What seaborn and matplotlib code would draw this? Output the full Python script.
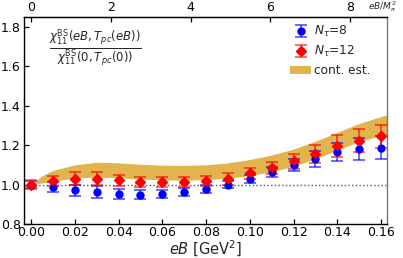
import numpy as np
import matplotlib
matplotlib.use('Agg')
import matplotlib.pyplot as plt
import seaborn as sns
from matplotlib.patches import Patch

# eB in GeV^2
eB = [0.00, 0.01, 0.02, 0.03, 0.04, 0.05, 0.06, 0.07, 0.08,
      0.09, 0.10, 0.11, 0.12, 0.13, 0.14, 0.15, 0.16]

# N_tau = 12 (red)
r12 = [1.000, 1.020, 1.029, 1.030, 1.022, 1.014, 1.012, 1.012, 1.020,
       1.030, 1.056, 1.084, 1.118, 1.155, 1.194, 1.223, 1.245]
e12 = [0.022, 0.025, 0.033, 0.033, 0.028, 0.025, 0.025, 0.025, 0.025,
       0.030, 0.030, 0.030, 0.039, 0.047, 0.055, 0.058, 0.059]

# N_tau = 8 (blue)
r8 = [1.000, 0.988, 0.971, 0.962, 0.953, 0.949, 0.953, 0.962, 0.978,
      1.000, 1.029, 1.062, 1.098, 1.130, 1.164, 1.182, 1.187]
e8 = [0.020, 0.026, 0.028, 0.030, 0.025, 0.022, 0.020, 0.020, 0.020,
      0.020, 0.020, 0.025, 0.030, 0.040, 0.045, 0.055, 0.057]

# continuum estimate band
band_x = [0.0, 0.005, 0.01, 0.02, 0.03, 0.04, 0.05, 0.06, 0.07, 0.08,
          0.09, 0.10, 0.11, 0.12, 0.13, 0.14, 0.15, 0.16, 0.163]
band_hi = [1.00, 1.045, 1.072, 1.100, 1.113, 1.110, 1.103, 1.098, 1.097, 1.100,
           1.110, 1.127, 1.150, 1.180, 1.220, 1.265, 1.310, 1.345, 1.355]
band_lo = [1.00, 1.008, 1.017, 1.033, 1.038, 1.034, 1.028, 1.024, 1.022, 1.025,
           1.032, 1.045, 1.065, 1.093, 1.130, 1.175, 1.218, 1.248, 1.255]

Mpi2 = 0.135 ** 2

sns.set_style('ticks')
plt.rcParams['font.family'] = ['DejaVu Sans']
plt.rcParams['xtick.direction'] = 'in'
plt.rcParams['ytick.direction'] = 'in'
plt.rcParams['axes.edgecolor'] = 'black'
plt.rcParams['xtick.color'] = 'black'
plt.rcParams['ytick.color'] = 'black'

fig = plt.figure(figsize=(4.03, 2.58), dpi=100)
ax = fig.add_axes([0.06, 0.132, 0.90, 0.802])

band_col = '#E1B44D'
ax.fill_between(band_x, band_lo, band_hi, color=band_col, lw=0, zorder=1)
ax.axhline(1.0, color='#555555', ls=':', lw=1.0, zorder=2)

h8 = ax.errorbar(eB, r8, yerr=e8, fmt='o', color='blue', ms=5,
                 ecolor=(0, 0, 1, 0.75), elinewidth=1.1,
                 capsize=4, capthick=1.1, zorder=3)
h12 = ax.errorbar(eB, r12, yerr=e12, fmt='D', color='red', ms=4.6,
                  ecolor=(1, 0, 0, 0.75), elinewidth=1.1,
                  capsize=4, capthick=1.1, zorder=4)
# markers on top of all bars
sns.scatterplot(x=eB, y=r8, ax=ax, color='blue', marker='o', s=26,
                linewidth=0, zorder=5)
sns.scatterplot(x=eB, y=r12, ax=ax, color='red', marker='D', s=22,
                linewidth=0, zorder=6)

ax.set_xlim(-0.0032, 0.1627)
ax.set_ylim(0.8, 1.85)
ax.set_xticks(np.arange(0, 0.161, 0.02))
ax.set_yticks([0.8, 1.0, 1.2, 1.4, 1.6, 1.8])
ax.tick_params(labelsize=9, length=3.5, width=0.9, pad=2.5)
ax.tick_params(axis='x', pad=1.5)
ax.set_xlabel('$eB$ [GeV$^2$]', fontsize=10.5, labelpad=0)
for s in ax.spines.values():
    s.set_linewidth(1.0)
    s.set_color('black')
ax.spines['right'].set_color('#777777')

sec = ax.secondary_xaxis('top', functions=(lambda x: x / Mpi2, lambda x: x * Mpi2))
sec.set_xticks([0, 2, 4, 6, 8])
sec.tick_params(labelsize=9, length=3.5, width=0.9, pad=2, direction='in')
fig.text(0.913, 0.973, r'$eB/M_\pi^2$', fontsize=6.5, ha='left', va='center')

ax.text(0.196, 0.85,
        r'$\frac{\chi_{11}^{\rm BS}(eB,T_{pc}(eB))}{\chi_{11}^{\rm BS}(0,T_{pc}(0))}$',
        transform=ax.transAxes, fontsize=12, ha='center', va='center')

hb = Patch(color=band_col, lw=0)
ax.legend([h8, h12, hb], [r'$N_\tau$=8', r'$N_\tau$=12', 'cont. est.'],
          loc='upper right', frameon=False, fontsize=8.7, handlelength=1.75,
          handletextpad=0.25, labelspacing=0.4, borderaxespad=0.2,
          bbox_to_anchor=(0.975, 1.0))

fig.savefig('out.png', dpi=100)
